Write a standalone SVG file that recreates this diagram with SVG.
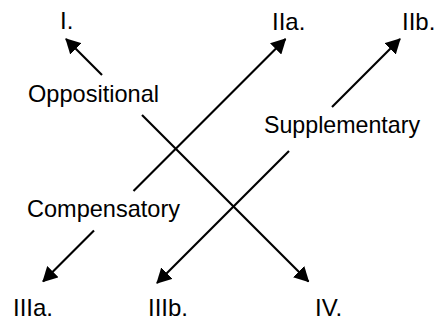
<svg xmlns="http://www.w3.org/2000/svg" width="437" height="320" viewBox="0 0 437 320">
  <style>
    .lbl { font-family: "Liberation Sans", Arial, sans-serif; font-size: 24px; fill: #000; }
    .edge { stroke: #000; stroke-width: 2.2; fill: none; marker-end: url(#arrow); }
  </style>
  <defs>
    <marker id="arrow" viewBox="0 0 15 16" refX="14" refY="8" markerWidth="15" markerHeight="16" markerUnits="userSpaceOnUse" orient="auto">
      <path d="M0,0 L15,8 L0,16 z" fill="#000"/>
    </marker>
  </defs>
  <rect width="437" height="320" fill="#fff"/>
  <g id="connectors">
    <line class="edge" x1="102" y1="75" x2="66" y2="39"/>
    <line class="edge" x1="142" y1="115" x2="308.5" y2="281.5"/>
    <line class="edge" x1="133.5" y1="191" x2="285.5" y2="39"/>
    <line class="edge" x1="94" y1="230.5" x2="43" y2="281.5"/>
    <line class="edge" x1="332" y1="107" x2="400" y2="39"/>
    <line class="edge" x1="289" y1="151" x2="157" y2="283"/>
  </g>
  <g id="node-I"><text class="lbl" x="60" y="29">I.</text></g>
  <g id="node-IIa"><text class="lbl" x="272" y="30">IIa.</text></g>
  <g id="node-IIb"><text class="lbl" x="402" y="30">IIb.</text></g>
  <g id="node-IIIa"><text class="lbl" x="13" y="316">IIIa.</text></g>
  <g id="node-IIIb"><text class="lbl" x="148" y="316">IIIb.</text></g>
  <g id="node-IV"><text class="lbl" x="315" y="316">IV.</text></g>
  <g id="label-oppositional"><text class="lbl" x="28" y="102" textLength="131" lengthAdjust="spacingAndGlyphs">Oppositional</text></g>
  <g id="label-supplementary"><text class="lbl" x="264" y="133" textLength="156" lengthAdjust="spacingAndGlyphs">Supplementary</text></g>
  <g id="label-compensatory"><text class="lbl" x="27" y="217" textLength="153" lengthAdjust="spacingAndGlyphs">Compensatory</text></g>
</svg>
